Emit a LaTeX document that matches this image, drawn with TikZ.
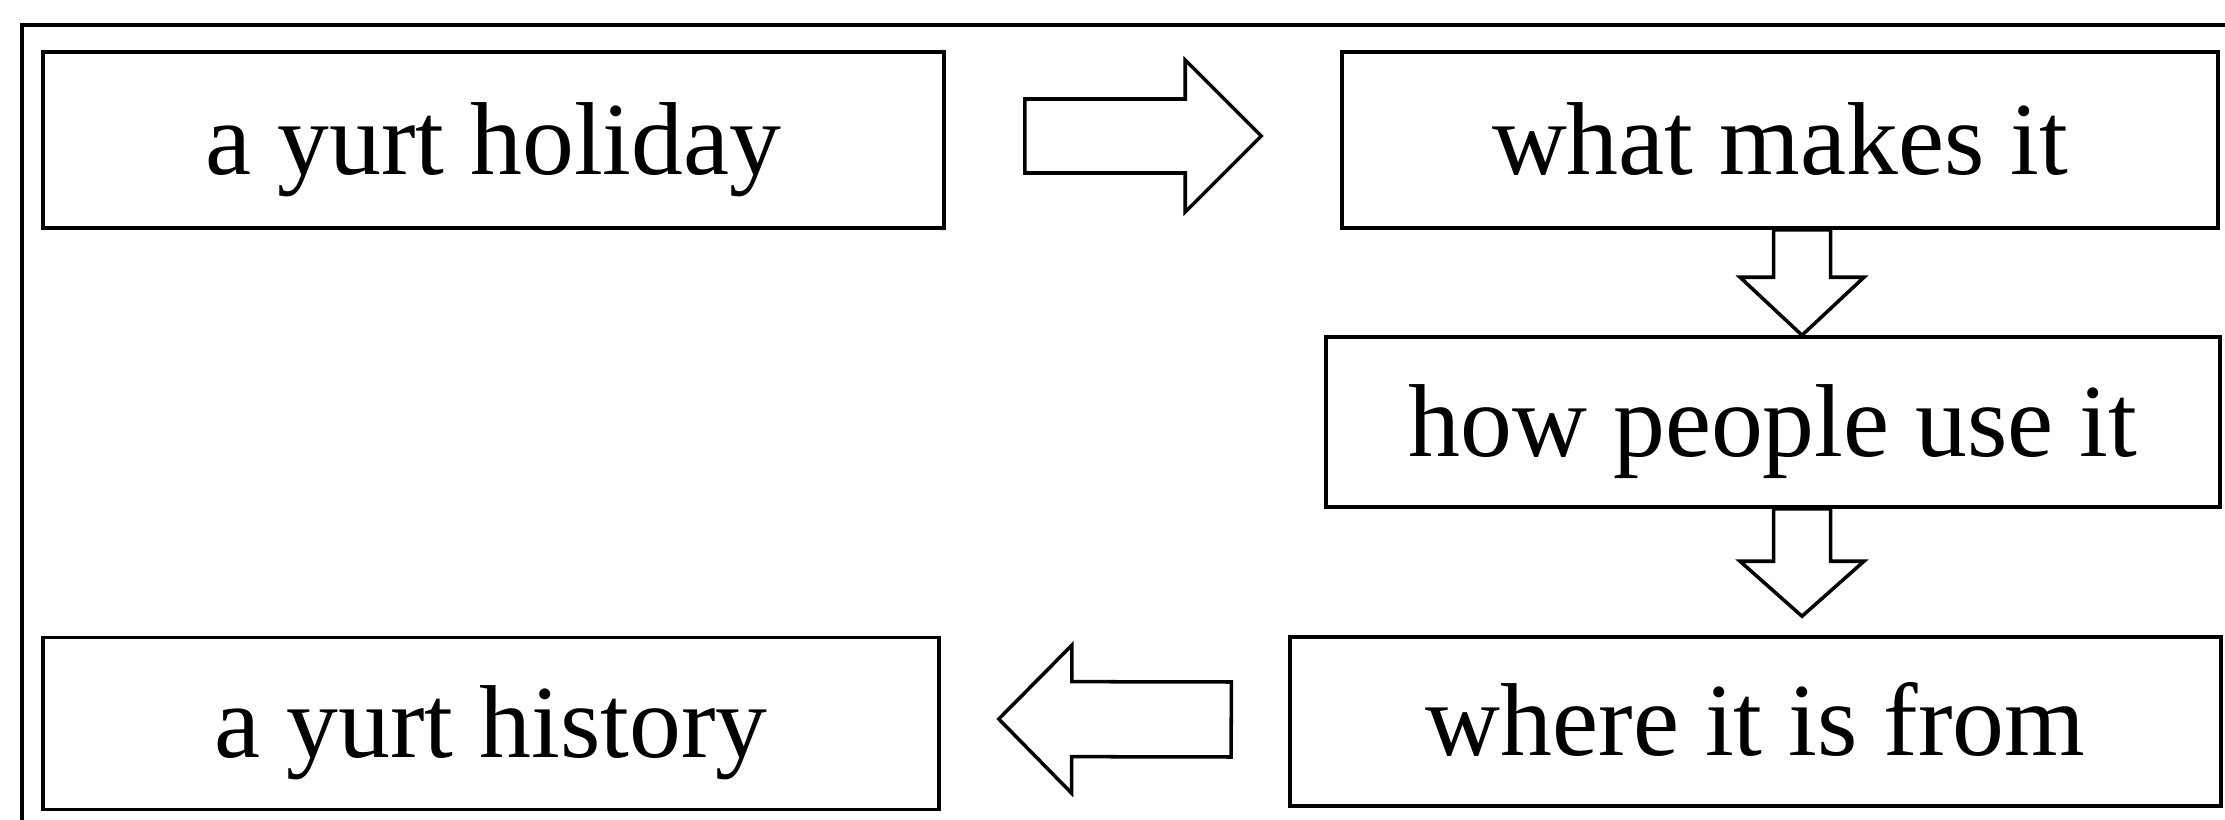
\documentclass[tikz,border=0pt]{standalone}
\usepackage{fontspec}
\setmainfont{Liberation Serif}
\usetikzlibrary{calc}

\begin{document}
\begin{tikzpicture}[every topic box/.style = {},
                    topic box/.style = {rectangle, draw=black, line width=1pt, inner sep=0pt, text height=20pt, text depth=0.5pt, font=\fontsize{29.5}{35}\selectfont, every topic box},
                    shaft half/.store in = \shafthalf, wing half/.store in = \winghalf, point length/.store in = \pointlen,
                    block arrow/.style = {draw=black, line width=1pt, line join=miter, to path={
                        let \p1 = ($(\tikztotarget)!\pointlen!(\tikztostart)$), \p2 = (\tikztotarget) in
                        ($(\tikztostart)!\shafthalf!90:(\p2)$) -- ($(\p1)!\shafthalf!90:(\p2)$) -- ($(\p1)!\winghalf!90:(\p2)$) -- (\p2)
                        -- ($(\p1)!\winghalf!-90:(\p2)$) -- ($(\p1)!\shafthalf!-90:(\p2)$) -- ($(\tikztostart)!\shafthalf!-90:(\p2)$) -- cycle}}]
                \useasboundingbox (0,0) rectangle (22.25,-8.2);
                % outer frame, cut at right and bottom
                \draw[line width=1.4pt] (0.22,-8.5) |- (22.5,-0.25);
                % top row
                \node at (4.935,-1.40) [topic box, minimum width=9.01cm, minimum height=1.76cm] (holiday) {a yurt holiday};
                \node at (17.80,-1.40) [topic box, minimum width=8.76cm, minimum height=1.76cm] (makes) {what makes it};
                % right column
                \node at (17.73,-4.22) [topic box, minimum width=8.94cm, minimum height=1.70cm] (people) {how people use it};
                % bottom row
                \node at (17.555,-7.215) [topic box, minimum width=9.31cm, minimum height=1.69cm] (origin) {where it is from};
                \node at (4.91,-7.235) [topic box, minimum width=8.96cm, minimum height=1.72cm] (history) {a yurt history};
                % arrows
                \draw[block arrow, shaft half=0.37cm, wing half=0.76cm, point length=0.76cm] ([shift={(0.79,0.04)}]holiday.east) to ([shift={(-0.79,0.04)}]makes.west);
                \draw[block arrow, shaft half=0.285cm, wing half=0.62cm, point length=0.58cm] ([xshift=0.22cm]makes.south) to ([xshift=0.29cm]people.north);
                \draw[block arrow, shaft half=0.285cm, wing half=0.62cm, point length=0.55cm] ([xshift=0.29cm]people.south) to ([shift={(0.465,0.19)}]origin.north);
                \draw[block arrow, shaft half=0.375cm, wing half=0.74cm, point length=0.73cm] ([shift={(-0.57,0.02)}]origin.west) to ([shift={(0.58,0.045)}]history.east);
\end{tikzpicture}
\end{document}
